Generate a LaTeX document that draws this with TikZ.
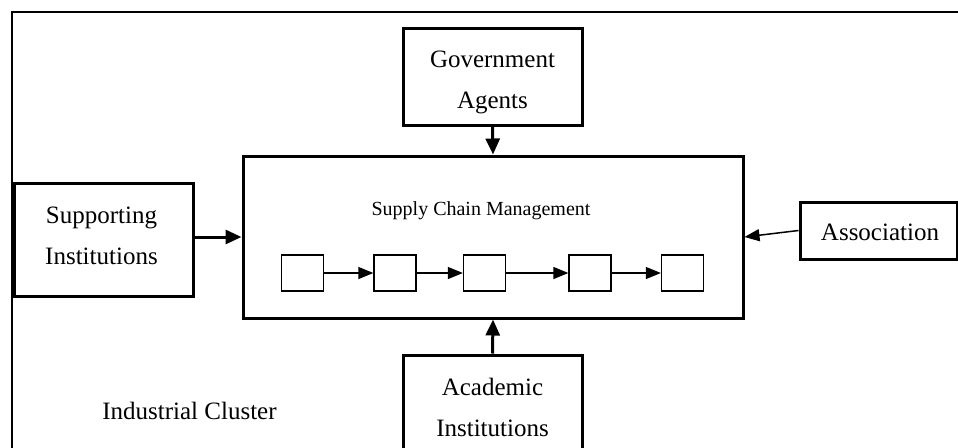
\documentclass[tikz,border=0pt]{standalone}
\usepackage{fontspec}
\setmainfont{Liberation Serif}
\usetikzlibrary{arrows.meta}
\tikzset{
  bigbox/.style={draw, line width=3pt, minimum width=#1, inner sep=0pt},
  chainbox/.style={draw, line width=1.3pt, minimum width=42pt, minimum height=36pt, inner sep=0pt},
  lbl/.style={font=\fontsize{25}{41}\selectfont, align=center, inner sep=0pt},
  thickarrow/.style={line width=3pt, -{Triangle[length=16pt,width=14pt]}},
  thinarrow/.style={line width=1.3pt, -{Triangle[length=15pt,width=12pt]}},
}
\begin{document}
\begin{tikzpicture}[x=1pt,y=-1pt]
\useasboundingbox (0,0) rectangle (958,447);
% outer frame (only top and left visible)
\draw[line width=2pt] (12,470) -- (12,12) -- (980,12);
% boxes
\node[bigbox=179pt, minimum height=97pt] (gov) at (492.5,76.5) {};
\node[lbl] (govt) at (492.5,82) {Government\\Agents};
\node[bigbox=179pt, minimum height=113pt] (sup) at (103.5,239.5) {};
\node[lbl] (supt) at (101.5,236) {Supporting\\Institutions};
\node[bigbox=157pt, minimum height=57pt] (assoc) at (878.5,230.5) {};
\node[lbl] (assoct) at (880,232) {Association};
\node[bigbox=179pt, minimum height=110pt] (acad) at (492.5,410) {};
\node[lbl] (acadt) at (492.5,407) {Academic\\Institutions};
\node[bigbox=500pt, minimum height=162pt] (main) at (493,237) {};
\node[inner sep=0pt, font=\fontsize{20}{24}\selectfont] (scm) at (481,211) {Supply Chain Management};
\node[lbl] (ic) at (189.5,411) {Industrial Cluster};
% chain
\node[chainbox] (c1) at (302.5,273) {};
\node[chainbox] (c2) at (395,273) {};
\node[chainbox] (c3) at (484.5,273) {};
\node[chainbox] (c4) at (590,273) {};
\node[chainbox] (c5) at (682.5,273) {};
\draw[thinarrow] (c1.east) -- (c2.west);
\draw[thinarrow] (c2.east) -- (c3.west);
\draw[thinarrow] (c3.east) -- (c4.west);
\draw[thinarrow] (c4.east) -- (c5.west);
% connectors
\draw[thickarrow] (gov.south) -- (main.north);
\draw[thickarrow] (acad.north) -- (main.south);
\draw[thickarrow] (sup.east |- main.west) -- (main.west);
\draw[line width=1.5pt, -{Triangle[length=15pt,width=12pt]}] (assoc.west) -- (main.east);
\end{tikzpicture}
\end{document}
